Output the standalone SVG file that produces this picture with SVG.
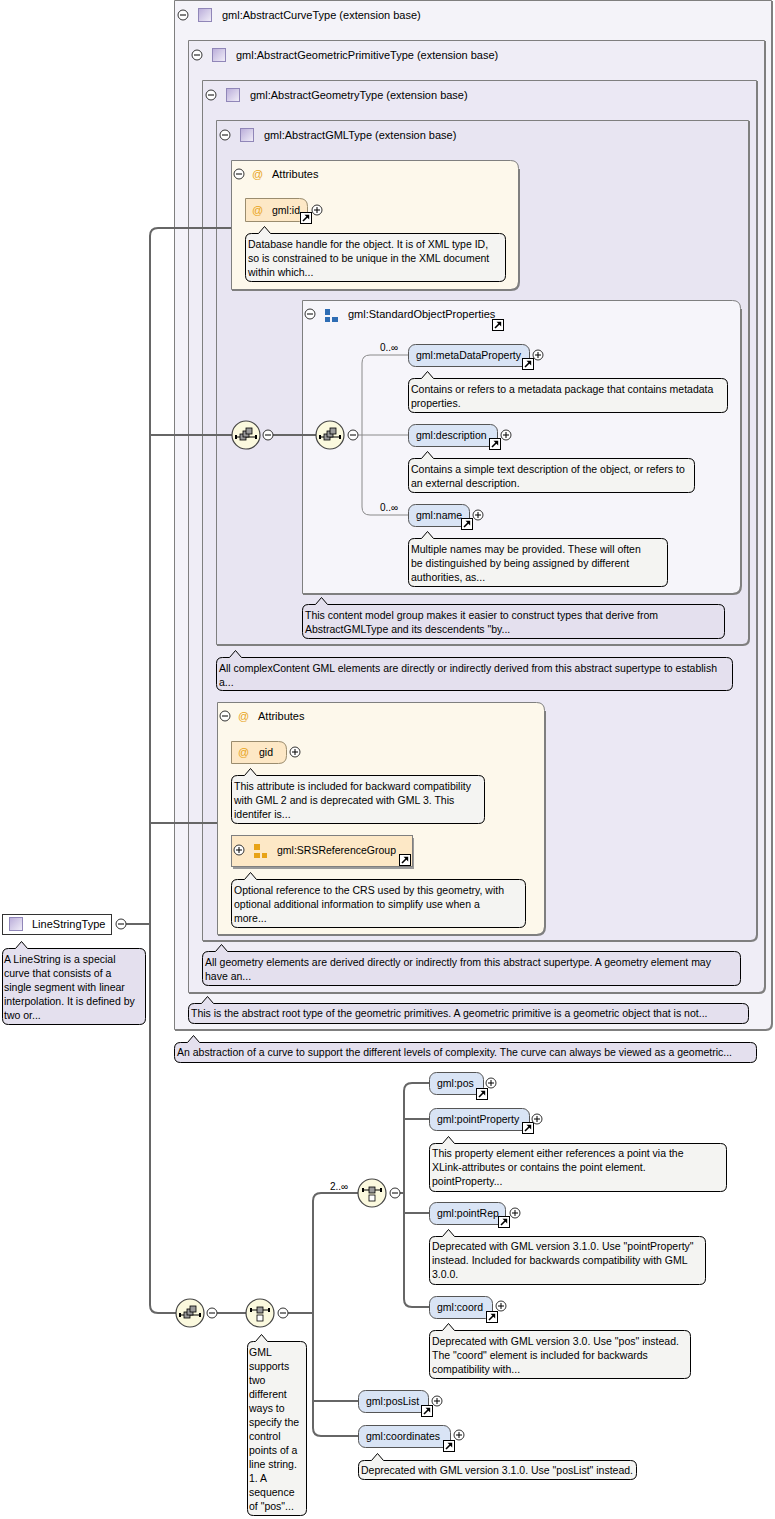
<svg xmlns="http://www.w3.org/2000/svg" xmlns:xlink="http://www.w3.org/1999/xlink" width="775" height="1519" viewBox="0 0 775 1519">
<style>
text{font-family:"Liberation Sans",Arial,sans-serif;fill:#000}
.h{font-size:11px}
.l{font-size:10.5px}
.c{font-size:10.5px}
.m{font-size:10px}
.at{font-size:11px;fill:#e8a317}
.conn{fill:none;stroke:#666;stroke-width:2}
.thin{fill:none;stroke:#8a8a8a;stroke-width:1}
.box{stroke:#7f7f7f;stroke-width:1}
.shadow{fill:none;stroke:#7f7f7f;stroke-width:2}
.el{fill:#d9e4f5;stroke:#555;stroke-width:1}
.attr{fill:#fde8c6;stroke:#9a8c6e;stroke-width:1}
.bw{fill:#f4f4f2;stroke:#000;stroke-width:1}
.bl{fill:#e4e0ee;stroke:#000;stroke-width:1}
.sep{stroke:url(#sepg);stroke-width:2}
.comp{fill:#fbf9de;stroke:#444;stroke-width:1.2}
</style>
<defs>
<linearGradient id="sepg" x1="0" y1="0" x2="1" y2="0">
<stop offset="0" stop-color="#ffffff" stop-opacity="0.2"/>
<stop offset="0.35" stop-color="#a8a5b0"/>
<stop offset="1" stop-color="#ffffff" stop-opacity="0"/>
</linearGradient>
<linearGradient id="lav" x1="0" y1="0" x2="1" y2="1">
<stop offset="0" stop-color="#b9acd9"/>
<stop offset="1" stop-color="#f2eff9"/>
</linearGradient>
<g id="plus"><circle r="5" fill="#fff" stroke="#333"/><path d="M-3,0H3M0,-3V3" stroke="#000"/></g>
<g id="minus"><circle r="5" fill="#fff" stroke="#333"/><path d="M-3,0H3" stroke="#000"/></g>
<g id="link"><rect x="0.5" y="0.5" width="11" height="11" fill="#fff" stroke="#000"/><path d="M3,9 L8,4" stroke="#000" stroke-width="1.6"/><path d="M4.5,2.8 H9.2 V7.5 Z" fill="#000"/></g>
<g id="ticon"><rect x="0.5" y="0.5" width="13" height="13" fill="url(#lav)" stroke="#9086b8"/></g>
<g id="seqicon"><circle r="14" class="comp"/><path d="M-10,2 H10" stroke="#000"/><rect x="-11" y="0" width="2" height="4" fill="#000"/><rect x="9" y="0" width="2" height="4" fill="#000"/><rect x="-6" y="-1" width="6" height="6" fill="#9a9a9a" stroke="#000" stroke-width="0.8"/><rect x="-3" y="-4" width="6" height="6" fill="#9a9a9a" stroke="#000" stroke-width="0.8"/><rect x="0" y="-7" width="6" height="6" fill="#9a9a9a" stroke="#000" stroke-width="0.8"/></g>
<g id="choiceicon"><circle r="14" class="comp"/><path d="M-9,-3 H9" stroke="#000"/><rect x="-10" y="-5" width="2" height="4" fill="#000"/><rect x="8" y="-5" width="2" height="4" fill="#000"/><rect x="-3" y="-6" width="6" height="6" fill="#9a9a9a" stroke="#000" stroke-width="0.8"/><rect x="-3" y="2" width="6" height="6" fill="#fff" stroke="#000" stroke-width="0.8"/></g>
</defs>

<!-- type boxes -->
<g id="AbstractCurveType">
<path class="box" fill="#f4f3f9" d="M174.5,0.5 H771.5 V1023.5 Q771.5,1029.5 765.5,1029.5 H174.5 Z"/>
<path class="shadow" d="M772,1 V1024 Q772,1030 766,1030 H175"/>
<use href="#minus" x="183" y="15"/><use href="#ticon" x="198" y="8"/>
<text class="h" x="222" y="19">gml:AbstractCurveType (extension base)</text>
<line class="sep" x1="178" y1="29" x2="626" y2="29"/>
</g>
<g id="AbstractGeometricPrimitiveType">
<path class="box" fill="#efedf6" d="M188.5,40.5 H764.5 V986.5 Q764.5,992.5 758.5,992.5 H188.5 Z"/>
<path class="shadow" d="M765,41 V987 Q765,993 759,993 H189"/>
<use href="#minus" x="197" y="55"/><use href="#ticon" x="212" y="48"/>
<text class="h" x="236" y="59">gml:AbstractGeometricPrimitiveType (extension base)</text>
<line class="sep" x1="192" y1="69" x2="624" y2="69"/>
</g>
<g id="AbstractGeometryType">
<path class="box" fill="#ebe8f4" d="M202.5,80.5 H756.5 V934.5 Q756.5,940.5 750.5,940.5 H202.5 Z"/>
<path class="shadow" d="M757,81 V935 Q757,941 751,941 H203"/>
<use href="#minus" x="211" y="95"/><use href="#ticon" x="226" y="88"/>
<text class="h" x="250" y="99">gml:AbstractGeometryType (extension base)</text>
<line class="sep" x1="206" y1="109" x2="621" y2="109"/>
</g>
<g id="AbstractGMLType">
<path class="box" fill="#e8e5f2" d="M216.5,120.5 H748.5 V638.5 Q748.5,644.5 742.5,644.5 H216.5 Z"/>
<path class="shadow" d="M749,121 V639 Q749,645 743,645 H217"/>
<use href="#minus" x="225" y="135"/><use href="#ticon" x="240" y="128"/>
<text class="h" x="264" y="139">gml:AbstractGMLType (extension base)</text>
<line class="sep" x1="220" y1="149" x2="618" y2="149"/>
</g>

<!-- attribute containers -->
<g id="Attributes1">
<path class="box" fill="#fdf8eb" d="M231.5,160.5 H510.5 Q518.5,160.5 518.5,168.5 V281.5 Q518.5,289.5 510.5,289.5 H231.5 Z"/>
<path class="shadow" d="M519,169 V282 Q519,290 511,290 H232"/>
<use href="#minus" x="239" y="174"/>
<text class="at" x="252" y="178">@</text>
<text class="h" x="272" y="178">Attributes</text>
<line class="sep" x1="235" y1="188" x2="450" y2="188"/>
</g>
<g id="Attributes2">
<path class="box" fill="#fdf8eb" d="M217.5,702.5 H536.5 Q544.5,702.5 544.5,710.5 V926.5 Q544.5,934.5 536.5,934.5 H217.5 Z"/>
<path class="shadow" d="M545,711 V927 Q545,935 537,935 H218"/>
<use href="#minus" x="225" y="716"/>
<text class="at" x="238" y="720">@</text>
<text class="h" x="258" y="720">Attributes</text>
<line class="sep" x1="221" y1="730" x2="465" y2="730"/>
</g>

<g id="StandardObjectProperties">
<path class="box" fill="#f6f5fa" d="M302.5,300.5 H732.5 Q740.5,300.5 740.5,308.5 V585.5 Q740.5,593.5 732.5,593.5 H302.5 Z"/>
<path class="shadow" d="M741,309 V586 Q741,594 733,594 H303"/>
<use href="#minus" x="310" y="314"/>
<rect x="325" y="309" width="5" height="6" fill="#2e6db4"/><rect x="325" y="317" width="5" height="5" fill="#2e6db4"/><rect x="332" y="317" width="6" height="5" fill="#2e6db4"/>
<text class="h" x="348" y="318">gml:StandardObjectProperties</text>
<use href="#link" x="492" y="319"/>
<line class="sep" x1="306" y1="333" x2="640" y2="333"/>
<g transform="translate(302,604)"><path class="bl" d="M6.5,0.5 H13.5 L19.5,-6.5 L25.5,0.5 H416.5 Q422.5,0.5 422.5,6.5 V28.5 Q422.5,34.5 416.5,34.5 H6.5 Q0.5,34.5 0.5,28.5 V6.5 Q0.5,0.5 6.5,0.5 Z"/>
<text class="c" x="3" y="15">This content model group makes it easier to construct types that derive from</text>
<text class="c" x="3" y="29">AbstractGMLType and its descendents "by...</text></g>
</g>

<!-- connectors -->
<g id="connectors">
<path class="conn" d="M231,228 H158 Q150,228 150,236 V1305 Q150,1313 158,1313 H176"/>
<path class="conn" d="M150,435 H232"/>
<path class="conn" d="M150,823 H217"/>
<path class="conn" d="M126,924 H150"/>
<path class="conn" d="M273,435 H316"/>
<path class="thin" d="M358,435 H408"/>
<path class="thin" d="M408,355 H370 Q362,355 362,363 V507 Q362,515 370,515 H408"/>
<path class="conn" d="M217,1313 H246"/>
<path class="conn" d="M288,1313 H313"/>
<path class="conn" d="M358,1193 H321 Q313,1193 313,1201 V1428 Q313,1436 321,1436 H358"/>
<path class="conn" d="M313,1401 H358"/>
<path class="conn" d="M400,1193 H404"/>
<path class="conn" d="M429,1083 H412 Q404,1083 404,1091 V1299 Q404,1307 412,1307 H429"/>
<path class="conn" d="M404,1119 H429"/>
<path class="conn" d="M404,1213 H429"/>
</g>

<g id="gml_id">
<path class="attr" d="M245.5,198.5 H299.5 Q307.5,198.5 307.5,206.5 V213.5 Q307.5,221.5 299.5,221.5 H245.5 Z"/>
<text class="at" x="252" y="214">@</text>
<text class="l" x="272" y="214">gml:id</text>
<use href="#link" x="300" y="212"/><use href="#plus" x="317" y="210"/>
<g transform="translate(245,233)"><path class="bw" d="M6.5,0.5 H13.5 L19.5,-6.5 L25.5,0.5 H254.5 Q260.5,0.5 260.5,6.5 V42.5 Q260.5,48.5 254.5,48.5 H6.5 Q0.5,48.5 0.5,42.5 V6.5 Q0.5,0.5 6.5,0.5 Z"/>
<text class="c" x="3" y="15">Database handle for the object. It is of XML type ID,</text>
<text class="c" x="3" y="29">so is constrained to be unique in the XML document</text>
<text class="c" x="3" y="43">within which...</text></g>
</g>

<!-- compositors -->
<g id="seq1"><use href="#seqicon" x="246" y="435"/><use href="#minus" x="268" y="435"/></g>
<g id="seq2"><use href="#seqicon" x="330" y="435"/><use href="#minus" x="353" y="435"/></g>

<g id="metaDataProperty">
<text class="m" x="380" y="351">0..∞</text>
<rect class="el" x="408.5" y="344.5" width="121" height="22" rx="7"/>
<text class="l" x="416" y="359">gml:metaDataProperty</text>
<use href="#link" x="522" y="358"/><use href="#plus" x="538" y="355"/>
<g transform="translate(408,378)"><path class="bw" d="M6.5,0.5 H13.5 L19.5,-6.5 L25.5,0.5 H313.5 Q319.5,0.5 319.5,6.5 V28.5 Q319.5,34.5 313.5,34.5 H6.5 Q0.5,34.5 0.5,28.5 V6.5 Q0.5,0.5 6.5,0.5 Z"/>
<text class="c" x="3" y="15">Contains or refers to a metadata package that contains metadata</text>
<text class="c" x="3" y="29">properties.</text></g>
</g>
<g id="description">
<rect class="el" x="408.5" y="424.5" width="89" height="22" rx="7"/>
<text class="l" x="416" y="439">gml:description</text>
<use href="#link" x="489" y="438"/><use href="#plus" x="506" y="435"/>
<g transform="translate(408,458)"><path class="bw" d="M6.5,0.5 H13.5 L19.5,-6.5 L25.5,0.5 H280.5 Q286.5,0.5 286.5,6.5 V28.5 Q286.5,34.5 280.5,34.5 H6.5 Q0.5,34.5 0.5,28.5 V6.5 Q0.5,0.5 6.5,0.5 Z"/>
<text class="c" x="3" y="15">Contains a simple text description of the object, or refers to</text>
<text class="c" x="3" y="29">an external description.</text></g>
</g>
<g id="name">
<text class="m" x="380" y="511">0..∞</text>
<rect class="el" x="408.5" y="504.5" width="61" height="22" rx="7"/>
<text class="l" x="416" y="519">gml:name</text>
<use href="#link" x="461" y="518"/><use href="#plus" x="478" y="515"/>
<g transform="translate(408,538)"><path class="bw" d="M6.5,0.5 H13.5 L19.5,-6.5 L25.5,0.5 H253.5 Q259.5,0.5 259.5,6.5 V42.5 Q259.5,48.5 253.5,48.5 H6.5 Q0.5,48.5 0.5,42.5 V6.5 Q0.5,0.5 6.5,0.5 Z"/>
<text class="c" x="3" y="15">Multiple names may be provided. These will often</text>
<text class="c" x="3" y="29">be distinguished by being assigned by different</text>
<text class="c" x="3" y="43">authorities, as...</text></g>
</g>

<g id="AbstractGMLType_comment" transform="translate(216,657)"><path class="bl" d="M6.5,0.5 H13.5 L19.5,-6.5 L25.5,0.5 H510.5 Q516.5,0.5 516.5,6.5 V27.5 Q516.5,33.5 510.5,33.5 H6.5 Q0.5,33.5 0.5,27.5 V6.5 Q0.5,0.5 6.5,0.5 Z"/>
<text class="c" x="3" y="15">All complexContent GML elements are directly or indirectly derived from this abstract supertype to establish</text>
<text class="c" x="3" y="29">a...</text></g>

<g id="gid">
<path class="attr" d="M231.5,741.5 H278.5 Q286.5,741.5 286.5,749.5 V755.5 Q286.5,763.5 278.5,763.5 H231.5 Z"/>
<text class="at" x="238" y="756">@</text>
<text class="l" x="259" y="756">gid</text>
<use href="#plus" x="295" y="752"/>
<g transform="translate(231,775)"><path class="bw" d="M6.5,0.5 H13.5 L19.5,-6.5 L25.5,0.5 H247.5 Q253.5,0.5 253.5,6.5 V42.5 Q253.5,48.5 247.5,48.5 H6.5 Q0.5,48.5 0.5,42.5 V6.5 Q0.5,0.5 6.5,0.5 Z"/>
<text class="c" x="3" y="15">This attribute is included for backward compatibility</text>
<text class="c" x="3" y="29">with GML 2 and is deprecated with GML 3. This</text>
<text class="c" x="3" y="43">identifer is...</text></g>
</g>
<g id="SRSReferenceGroup">
<path d="M413,838 V868 H233" fill="none" stroke="#9a9a9a" stroke-width="2"/>
<rect x="231.5" y="835.5" width="181" height="31" fill="#fde8c6" stroke="#7f7f7f"/>
<use href="#plus" x="239" y="850"/>
<rect x="254" y="844" width="6" height="6" fill="#e8a317"/><rect x="254" y="853" width="6" height="5" fill="#e8a317"/><rect x="262" y="853" width="5" height="5" fill="#e8a317"/>
<text class="l" x="277" y="854">gml:SRSReferenceGroup</text>
<use href="#link" x="399" y="854"/>
<g transform="translate(231,879)"><path class="bw" d="M6.5,0.5 H13.5 L19.5,-6.5 L25.5,0.5 H288.5 Q294.5,0.5 294.5,6.5 V42.5 Q294.5,48.5 288.5,48.5 H6.5 Q0.5,48.5 0.5,42.5 V6.5 Q0.5,0.5 6.5,0.5 Z"/>
<text class="c" x="3" y="15">Optional reference to the CRS used by this geometry, with</text>
<text class="c" x="3" y="29">optional additional information to simplify use when a</text>
<text class="c" x="3" y="43">more...</text></g>
</g>

<g id="AbstractGeometryType_comment" transform="translate(202,951)"><path class="bl" d="M6.5,0.5 H13.5 L19.5,-6.5 L25.5,0.5 H532.5 Q538.5,0.5 538.5,6.5 V28.5 Q538.5,34.5 532.5,34.5 H6.5 Q0.5,34.5 0.5,28.5 V6.5 Q0.5,0.5 6.5,0.5 Z"/>
<text class="c" x="3" y="15">All geometry elements are derived directly or indirectly from this abstract supertype. A geometry element may</text>
<text class="c" x="3" y="29">have an...</text></g>
<g id="AbstractGeometricPrimitiveType_comment" transform="translate(188,1003)"><path class="bl" d="M6.5,0.5 H13.5 L19.5,-6.5 L25.5,0.5 H554.5 Q560.5,0.5 560.5,6.5 V14.5 Q560.5,20.5 554.5,20.5 H6.5 Q0.5,20.5 0.5,14.5 V6.5 Q0.5,0.5 6.5,0.5 Z"/>
<text class="c" x="3" y="14">This is the abstract root type of the geometric primitives. A geometric primitive is a geometric object that is not...</text></g>
<g id="AbstractCurveType_comment" transform="translate(174,1042)"><path class="bl" d="M6.5,0.5 H13.5 L19.5,-6.5 L25.5,0.5 H576.5 Q582.5,0.5 582.5,6.5 V14.5 Q582.5,20.5 576.5,20.5 H6.5 Q0.5,20.5 0.5,14.5 V6.5 Q0.5,0.5 6.5,0.5 Z"/>
<text class="c" x="3" y="14">An abstraction of a curve to support the different levels of complexity. The curve can always be viewed as a geometric...</text></g>

<!-- root -->
<g id="LineStringType">
<rect x="2.5" y="914.5" width="109" height="20" fill="#fff" stroke="#333"/>
<use href="#ticon" x="9" y="917"/>
<text class="h" x="32" y="928">LineStringType</text>
<use href="#minus" x="121" y="924"/>
<g transform="translate(2,948)"><path class="bl" d="M6.5,0.5 H13.5 L19.5,-6.5 L25.5,0.5 H137.5 Q143.5,0.5 143.5,6.5 V70.5 Q143.5,76.5 137.5,76.5 H6.5 Q0.5,76.5 0.5,70.5 V6.5 Q0.5,0.5 6.5,0.5 Z"/>
<text class="c" x="2" y="15">A LineString is a special</text>
<text class="c" x="2" y="29">curve that consists of a</text>
<text class="c" x="2" y="43">single segment with linear</text>
<text class="c" x="2" y="57">interpolation. It is defined by</text>
<text class="c" x="2" y="71">two or...</text></g>
</g>

<!-- content model -->
<g id="seq3"><use href="#seqicon" x="190" y="1313"/><use href="#minus" x="212" y="1313"/></g>
<g id="choice1"><use href="#choiceicon" x="260" y="1313"/><use href="#minus" x="283" y="1313"/>
<g transform="translate(247,1341)"><path class="bw" d="M6.5,0.5 H8.5 L14.5,-6.5 L20.5,0.5 H53.5 Q59.5,0.5 59.5,6.5 V168.5 Q59.5,174.5 53.5,174.5 H6.5 Q0.5,174.5 0.5,168.5 V6.5 Q0.5,0.5 6.5,0.5 Z"/>
<text class="c" x="2" y="15">GML</text>
<text class="c" x="2" y="29">supports</text>
<text class="c" x="2" y="43">two</text>
<text class="c" x="2" y="57">different</text>
<text class="c" x="2" y="71">ways to</text>
<text class="c" x="2" y="85">specify the</text>
<text class="c" x="2" y="99">control</text>
<text class="c" x="2" y="113">points of a</text>
<text class="c" x="2" y="127">line string.</text>
<text class="c" x="2" y="141">1. A</text>
<text class="c" x="2" y="155">sequence</text>
<text class="c" x="2" y="169">of "pos"...</text></g>
</g>
<g id="choice2"><text class="m" x="330" y="1190">2..∞</text><use href="#choiceicon" x="372" y="1193"/><use href="#minus" x="395" y="1193"/></g>

<g id="pos">
<rect class="el" x="429.5" y="1072.5" width="54" height="22" rx="7"/>
<text class="l" x="437" y="1087">gml:pos</text>
<use href="#link" x="476" y="1088"/><use href="#plus" x="491" y="1083"/>
</g>
<g id="pointProperty">
<rect class="el" x="429.5" y="1108.5" width="100" height="22" rx="7"/>
<text class="l" x="437" y="1123">gml:pointProperty</text>
<use href="#link" x="522" y="1122"/><use href="#plus" x="537" y="1119"/>
<g transform="translate(429,1143)"><path class="bw" d="M6.5,0.5 H13.5 L19.5,-6.5 L25.5,0.5 H291.5 Q297.5,0.5 297.5,6.5 V42.5 Q297.5,48.5 291.5,48.5 H6.5 Q0.5,48.5 0.5,42.5 V6.5 Q0.5,0.5 6.5,0.5 Z"/>
<text class="c" x="3" y="14">This property element either references a point via the</text>
<text class="c" x="3" y="28">XLink-attributes or contains the point element.</text>
<text class="c" x="3" y="42">pointProperty...</text></g>
</g>
<g id="pointRep">
<rect class="el" x="429.5" y="1202.5" width="76" height="22" rx="7"/>
<text class="l" x="437" y="1217">gml:pointRep</text>
<use href="#link" x="498" y="1216"/><use href="#plus" x="515" y="1213"/>
<g transform="translate(429,1236)"><path class="bw" d="M6.5,0.5 H13.5 L19.5,-6.5 L25.5,0.5 H270.5 Q276.5,0.5 276.5,6.5 V42.5 Q276.5,48.5 270.5,48.5 H6.5 Q0.5,48.5 0.5,42.5 V6.5 Q0.5,0.5 6.5,0.5 Z"/>
<text class="c" x="3" y="14">Deprecated with GML version 3.1.0. Use "pointProperty"</text>
<text class="c" x="3" y="28">instead. Included for backwards compatibility with GML</text>
<text class="c" x="3" y="42">3.0.0.</text></g>
</g>
<g id="coord">
<rect class="el" x="429.5" y="1296.5" width="63" height="22" rx="7"/>
<text class="l" x="437" y="1311">gml:coord</text>
<use href="#link" x="486" y="1311"/><use href="#plus" x="501" y="1306"/>
<g transform="translate(429,1330)"><path class="bw" d="M6.5,0.5 H13.5 L19.5,-6.5 L25.5,0.5 H255.5 Q261.5,0.5 261.5,6.5 V42.5 Q261.5,48.5 255.5,48.5 H6.5 Q0.5,48.5 0.5,42.5 V6.5 Q0.5,0.5 6.5,0.5 Z"/>
<text class="c" x="3" y="15">Deprecated with GML version 3.0. Use "pos" instead.</text>
<text class="c" x="3" y="29">The "coord" element is included for backwards</text>
<text class="c" x="3" y="43">compatibility with...</text></g>
</g>
<g id="posList">
<rect class="el" x="358.5" y="1390.5" width="70" height="22" rx="7"/>
<text class="l" x="366" y="1405">gml:posList</text>
<use href="#link" x="421" y="1405"/><use href="#plus" x="437" y="1401"/>
</g>
<g id="coordinates">
<rect class="el" x="358.5" y="1425.5" width="92" height="22" rx="7"/>
<text class="l" x="366" y="1440">gml:coordinates</text>
<use href="#link" x="443" y="1440"/><use href="#plus" x="459" y="1435"/>
<g transform="translate(358,1460)"><path class="bw" d="M6.5,0.5 H13.5 L19.5,-6.5 L25.5,0.5 H272.5 Q278.5,0.5 278.5,6.5 V13.5 Q278.5,19.5 272.5,19.5 H6.5 Q0.5,19.5 0.5,13.5 V6.5 Q0.5,0.5 6.5,0.5 Z"/>
<text class="c" x="3" y="14">Deprecated with GML version 3.1.0. Use "posList" instead.</text></g>
</g>
</svg>
